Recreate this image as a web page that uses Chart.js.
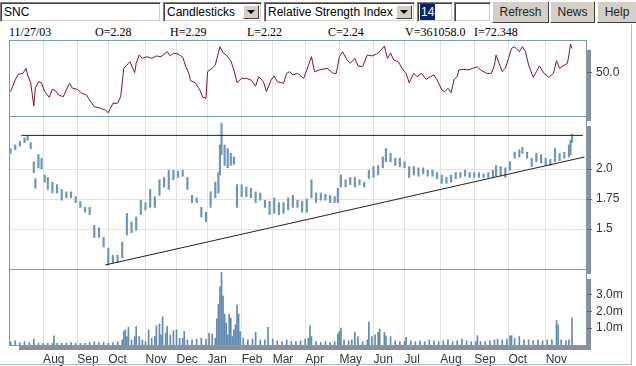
<!DOCTYPE html>
<html>
<head>
<meta charset="utf-8">
<script src="https://cdn.jsdelivr.net/npm/chart.js@4.4.1/dist/chart.umd.min.js"></script>
<style>
  body { margin: 0; background: #fff; width: 636px; height: 366px; overflow: hidden; position: relative;
         font-family: "Liberation Sans", Arial, sans-serif; font-size: 12px; color: #000; }
  .box { position: absolute; top: 2px; height: 20px; box-sizing: border-box; background: #fff;
         border: 1px solid; border-color: #808080 #fff #fff #808080;
         box-shadow: inset 1px 1px 0 #404040, inset -1px -1px 0 #d4d0c8;
         line-height: 18px; padding-left: 3px; white-space: nowrap; overflow: hidden; }
  .arrow { position: absolute; right: 2px; top: 2px; width: 16px; height: 14px; box-sizing: border-box;
           background: #d4d0c8; border: 1px solid; border-color: #fff #404040 #404040 #fff; }
  .arrow:after { content: ""; position: absolute; left: 3px; top: 4px; border-left: 4px solid transparent;
                 border-right: 4px solid transparent; border-top: 4px solid #000; }
  .btn { position: absolute; top: 1px; height: 22px; box-sizing: border-box; background: #d4d0c8;
         border: 1px solid; border-color: #fff #404040 #404040 #fff; text-align: center; line-height: 20px; color: #222; }
  .info { position: absolute; top: 25px; font-family: "Liberation Serif", "Times New Roman", serif; font-size: 12px; }
  canvas { position: absolute; left: 0; }
  .frame { position: absolute; background: #a9bccf; }
</style>
</head>
<body>
<div class="box" style="left:0;width:161px">SNC</div>
<div class="box" style="left:163px;width:99px">Candlesticks<span class="arrow"></span></div>
<div class="box" style="left:264px;width:151px">Relative Strength Index<span class="arrow"></span></div>
<div class="box" style="left:417px;width:36px;padding-left:2px"><span style="background:#0a246a;color:#fff;padding:1px 1px">14</span></div>
<div class="box" style="left:454px;width:37px"></div>
<div class="btn" style="left:492px;width:57px">Refresh</div>
<div class="btn" style="left:550px;width:45px">News</div>
<div class="btn" style="left:597px;width:40px">Help</div>

<div class="info" style="left:9px">11/27/03</div>
<div class="info" style="left:95px">O=2.28</div>
<div class="info" style="left:170px">H=2.29</div>
<div class="info" style="left:247px">L=2.22</div>
<div class="info" style="left:328px">C=2.24</div>
<div class="info" style="left:405px">V=361058.0</div>
<div class="info" style="left:474px">I=72.348</div>

<canvas id="rsiChart" width="636" height="82" style="top:40px"></canvas>
<canvas id="priceChart" width="636" height="159" style="top:116px"></canvas>
<canvas id="volChart" width="636" height="97" style="top:269px"></canvas>

<div class="frame" style="left:631px;top:24px;width:1px;height:341px"></div>
<div class="frame" style="left:0;top:364px;width:632px;height:1px"></div>

<script>
// x axis: trading days from the start of Jul 2002 to 27 Nov 2003
const lastDay = 372;
const monthDays = [22, 44, 64, 88, 108, 128, 150, 170, 191, 213, 235, 255, 278, 300, 322, 346];
const monthLabels = ['Aug', 'Sep', 'Oct', 'Nov', 'Dec', 'Jan', 'Feb', 'Mar', 'Apr', 'May', 'Jun', 'Jul', 'Aug', 'Sep', 'Oct', 'Nov'];

// RSI (14)
const rsiDays = [1, 4, 6, 9, 11, 12, 14, 16, 17, 19, 21, 23, 26, 28, 30, 32, 35, 37, 39, 41,
  44, 47, 50, 52, 55, 59, 62, 64, 67, 70, 72, 74, 77, 78, 81, 82, 84, 86, 89, 92,
  95, 98, 102, 104, 106, 109, 112, 114, 116, 117, 120, 123, 125, 127, 128, 131, 133, 136, 138, 140,
  143, 145, 147, 150, 153, 156, 159, 161, 164, 166, 169, 171, 173, 177, 179, 181, 183, 186, 190, 192,
  195, 197, 200, 205, 209, 211, 213, 215, 218, 220, 223, 225, 228, 231, 234, 237, 240, 242, 244, 246,
  248, 251, 254, 256, 258, 261, 263, 266, 269, 271, 274, 276, 279, 281, 283, 285, 287, 289, 290, 293,
  296, 299, 302, 304, 308, 311, 313, 314, 316, 318, 320, 322, 324, 326, 329, 331, 333, 335, 338, 340,
  342, 345, 348, 351, 353, 355, 357, 360, 361, 362, 363];
const rsiValues = [32.4, 43.2, 48.4, 49.3, 53.9, 47.8, 40.4, 19.2, 35.8, 41.6, 40.4, 32.4, 27.2, 34.6, 33.3, 29.3, 27.8, 34, 40.1, 35.5,
  34.6, 30.9, 29.3, 24.7, 18.6, 17.1, 15.5, 13, 21.7, 21.7, 27.8, 53.9, 58.5, 60, 49.9, 58.5, 66.2, 63.1, 64.6, 63.1,
  65.3, 64.6, 69.2, 65.3, 67.8, 67.1, 64.1, 55.4, 49.3, 42.5, 40.7, 34, 27.2, 26.3, 50.8, 53.9, 57, 73.8, 68.3, 66.2,
  60.9, 52.4, 40.7, 44.7, 44.7, 43.2, 37.6, 46.2, 41.6, 32.4, 43.2, 46.8, 41.6, 40.1, 49.3, 50.8, 47.8, 49.3, 44.7, 52.4,
  64.6, 50.8, 52.4, 53.9, 49.3, 49.3, 64.6, 69.2, 61.6, 58.5, 63.1, 56.1, 55.4, 66.2, 65.3, 67.1, 70.8, 74.5, 63.1, 67.8,
  61.6, 60, 52.4, 49.3, 40.7, 49.3, 46.2, 49.3, 43.8, 45.6, 47.8, 43.2, 34, 32.4, 35.5, 31.5, 43.8, 46.2, 52.4, 53,
  52.4, 53.9, 55.4, 52.4, 49.3, 49.3, 57, 66.2, 58.5, 50.8, 53.9, 63.1, 72.4, 73.8, 69.2, 73.8, 69.2, 57, 45.6, 50.8,
  56.1, 49.3, 45.6, 49.3, 60.9, 53.9, 56.1, 58.5, 66.2, 76.3, 72.3];
const rsiTicks = [50];
const rsiTickLabels = ['50.0'];

// price bars (low / high)
const priceDays = [1, 4, 7, 10, 12, 14, 16, 17, 19, 21, 23, 25, 28, 31, 34, 37, 40, 43, 46, 49,
  52, 55, 58, 61, 64, 67, 70, 73, 76, 79, 82, 85, 88, 91, 94, 97, 100, 103, 106, 109,
  112, 115, 118, 121, 124, 127, 130, 133, 135, 136, 137, 139, 141, 143, 145, 147, 150, 153, 156, 159,
  162, 165, 168, 171, 174, 177, 180, 183, 186, 189, 192, 195, 198, 201, 204, 207, 210, 212, 214, 217,
  220, 223, 226, 229, 232, 235, 238, 241, 243, 246, 249, 252, 255, 258, 261, 264, 267, 270, 273, 276,
  279, 282, 285, 288, 291, 294, 297, 300, 303, 306, 309, 312, 314, 317, 320, 323, 326, 329, 331, 334,
  337, 340, 343, 346, 349, 352, 355, 358, 361, 362, 363];
const priceLow = [2.13, 2.16, 2.19, 2.22, 2.24, 2.17, 1.97, 1.84, 2.01, 2.00, 1.89, 1.83, 1.80, 1.80, 1.74, 1.76, 1.76, 1.72, 1.68, 1.64,
  1.62, 1.43, 1.43, 1.35, 1.20, 1.22, 1.22, 1.26, 1.45, 1.47, 1.49, 1.62, 1.66, 1.68, 1.68, 1.78, 1.85, 1.83, 1.91, 1.93,
  1.94, 1.83, 1.72, 1.72, 1.60, 1.56, 1.68, 1.76, 1.80, 1.95, 2.12, 2.03, 2.01, 2.03, 2.04, 1.68, 1.77, 1.77, 1.76, 1.72,
  1.74, 1.68, 1.62, 1.63, 1.62, 1.63, 1.66, 1.68, 1.68, 1.64, 1.64, 1.76, 1.72, 1.74, 1.74, 1.72, 1.72, 1.72, 1.85, 1.85,
  1.87, 1.85, 1.87, 1.85, 1.92, 1.93, 1.95, 2.01, 2.06, 2.06, 2.03, 2.02, 2.01, 1.93, 1.95, 1.94, 1.96, 1.94, 1.94, 1.92,
  1.88, 1.88, 1.89, 1.92, 1.93, 1.94, 1.93, 1.93, 1.93, 1.93, 1.93, 1.93, 1.94, 1.94, 1.93, 1.99, 2.09, 2.10, 2.13, 2.09,
  2.02, 2.06, 2.05, 2.03, 2.03, 2.06, 2.07, 2.09, 2.10, 2.12, 2.22];
const priceHigh = [2.17, 2.20, 2.23, 2.26, 2.28, 2.22, 2.06, 1.92, 2.12, 2.09, 1.95, 1.93, 1.89, 1.87, 1.83, 1.81, 1.81, 1.77, 1.73, 1.68,
  1.68, 1.53, 1.51, 1.43, 1.34, 1.28, 1.28, 1.39, 1.63, 1.56, 1.60, 1.74, 1.72, 1.83, 1.77, 1.91, 1.93, 1.99, 1.99, 1.98,
  1.99, 1.93, 1.78, 1.76, 1.68, 1.64, 1.81, 1.89, 1.97, 2.20, 2.38, 2.20, 2.17, 2.13, 2.10, 1.87, 1.87, 1.85, 1.84, 1.81,
  1.80, 1.74, 1.73, 1.76, 1.72, 1.72, 1.76, 1.78, 1.74, 1.73, 1.75, 1.91, 1.80, 1.80, 1.79, 1.78, 1.77, 1.84, 1.95, 1.91,
  1.93, 1.93, 1.91, 1.89, 1.99, 2.02, 2.03, 2.10, 2.17, 2.13, 2.09, 2.09, 2.06, 2.02, 2.02, 2.01, 2.01, 1.99, 1.99, 1.97,
  1.95, 1.93, 1.95, 1.97, 1.97, 1.99, 1.97, 1.97, 1.97, 1.96, 1.97, 1.99, 2.03, 2.02, 2.01, 2.06, 2.14, 2.16, 2.18, 2.14,
  2.09, 2.13, 2.12, 2.09, 2.08, 2.17, 2.13, 2.14, 2.20, 2.24, 2.29];
const priceTicks = [1.5, 1.75, 2.0];
const priceTickLabels = ['1.5', '1.75', '2.0'];

// drawn lines: resistance and rising trend
const levelDays = [8, 370];
const levelValues = [2.28, 2.28];
const trendDays = [62, 371];
const trendValues = [1.20, 2.10];

// volume, millions of shares
const volDays = [1, 4, 7, 10, 13, 16, 19, 22, 25, 28, 29, 31, 34, 37, 40, 43, 46, 49, 52, 55,
  58, 61, 64, 67, 70, 73, 74, 75, 76, 77, 79, 81, 82, 84, 86, 88, 90, 92, 94, 95,
  97, 98, 99, 101, 102, 104, 106, 108, 110, 112, 113, 115, 118, 121, 124, 127, 129, 131, 133, 134,
  135, 136, 137, 138, 139, 140, 141, 142, 143, 144, 145, 146, 147, 148, 149, 151, 154, 157, 159, 162,
  165, 167, 170, 173, 176, 179, 182, 185, 188, 191, 193, 194, 195, 198, 201, 204, 207, 210, 212, 213,
  214, 216, 219, 221, 223, 225, 228, 231, 232, 234, 236, 238, 239, 242, 243, 246, 249, 252, 255, 256,
  259, 262, 265, 268, 271, 274, 277, 280, 283, 286, 289, 292, 295, 298, 301, 302, 304, 307, 310, 313,
  315, 318, 321, 323, 324, 326, 329, 332, 335, 338, 341, 344, 347, 350, 353, 354, 356, 359, 361, 363];
const volValues = [0.2, 0.25, 0.15, 0.2, 0.15, 0.35, 0.1, 0.1, 0.1, 0.1, 0.55, 0.1, 0.1, 0.1, 0.15, 0.1, 0.1, 0.1, 0.15, 0.2,
  0.15, 0.15, 0.1, 0.15, 0.2, 0.3, 0.8, 0.9, 0.5, 1.05, 0.3, 0.5, 1.1, 0.5, 0.3, 0.2, 0.9, 0.4, 0.5, 1.15,
  1.25, 0.6, 1.67, 0.7, 1.1, 0.6, 0.85, 0.9, 0.4, 0.4, 0.8, 0.3, 0.3, 0.35, 0.4, 0.35, 0.7, 0.65, 0.4, 1.55,
  2.4, 3.45, 4.3, 2.9, 1.83, 1.3, 0.6, 1.83, 1.6, 0.5, 0.9, 1.2, 2.37, 1.83, 0.8, 0.4, 0.3, 0.35, 0.75, 0.3,
  0.3, 1.05, 0.35, 0.25, 0.2, 0.3, 0.2, 0.2, 0.25, 0.35, 0.4, 1.15, 0.5, 0.2, 0.15, 0.2, 0.15, 0.2, 0.65, 0.8,
  1.0, 0.3, 0.25, 0.3, 0.75, 0.5, 0.2, 0.3, 1.35, 0.5, 0.6, 0.75, 0.95, 0.75, 0.55, 0.5, 0.25, 0.2, 0.2, 0.45,
  0.25, 0.2, 0.25, 0.2, 0.3, 0.25, 0.2, 0.25, 0.3, 0.2, 0.25, 0.35, 0.25, 0.2, 0.2, 0.55, 0.2, 0.2, 0.25, 0.3,
  0.35, 0.3, 0.35, 0.55, 0.55, 0.4, 0.5, 0.3, 0.3, 0.25, 0.3, 0.25, 0.3, 0.3, 1.45, 1.2, 0.3, 0.25, 0.3, 1.6];
const volTicks = [1, 2, 3];
const volTickLabels = ['1.0m', '2.0m', '3.0m'];

Chart.defaults.font.family = '"Liberation Sans", Arial, sans-serif';
Chart.defaults.font.size = 12;
Chart.defaults.color = '#333';

// white panel with a grey drop shadow and a steel-blue border
const panelPlugin = {
  id: 'panel',
  beforeDraw(chart) {
    const { ctx, chartArea: a } = chart;
    ctx.save();
    ctx.fillStyle = '#8b8f97';
    ctx.fillRect(a.left + 10, a.top + 10, a.right - a.left - 5, a.bottom - a.top - 5);
    ctx.fillStyle = '#fff';
    ctx.fillRect(a.left, a.top, a.right - a.left + 1, a.bottom - a.top + 1);
    ctx.restore();
  },
  afterDraw(chart) {
    const { ctx, chartArea: a } = chart;
    ctx.save();
    ctx.strokeStyle = '#7c9bb9';
    ctx.lineWidth = 1;
    ctx.strokeRect(a.left + 0.5, a.top + 0.5, a.right - a.left, a.bottom - a.top);
    ctx.restore();
  }
};

function xScale(showLabels) {
  return {
    type: 'linear', min: 0, max: lastDay, offset: false,
    grid: { color: '#e3e3e3', offset: false, drawTicks: showLabels, tickLength: 5, tickColor: '#7c9bb9' },
    border: { display: false },
    ticks: { display: showLabels, align: 'start', padding: 2, autoSkip: false, maxRotation: 0,
             callback: (v, i) => monthLabels[i] },
    afterBuildTicks: s => { s.ticks = monthDays.map(d => ({ value: d })); },
    afterFit: s => { s.height = showLabels ? 21 : 0; s.paddingLeft = 0; s.paddingRight = 0; }
  };
}

function yScale(min, max, ticks, labels, gridOnArea) {
  return {
    position: 'right', min: min, max: max, beginAtZero: false,
    grid: { drawOnChartArea: gridOnArea, color: '#e3e3e3', tickLength: 6, tickColor: '#666' },
    border: { display: false },
    ticks: { padding: 4, callback: (v, i) => labels[i] },
    afterBuildTicks: s => { s.ticks = ticks.map(v => ({ value: v })); },
    afterFit: s => { s.width = 50; s.paddingTop = 0; s.paddingBottom = 0; }
  };
}

const common = {
  responsive: false,
  devicePixelRatio: 1,
  animation: false,
  events: [],
  plugins: { legend: { display: false }, tooltip: { enabled: false } }
};

new Chart(document.getElementById('rsiChart'), {
  type: 'line',
  data: {
    datasets: [{
      data: rsiDays.map((d, i) => ({ x: d, y: rsiValues[i] })),
      borderColor: '#7d1535', borderWidth: 1, pointRadius: 0, tension: 0
    }]
  },
  options: Object.assign({}, common, {
    layout: { padding: { left: 9, right: 0, top: 0, bottom: 6 } },
    scales: { x: xScale(false), y: yScale(10, 80, rsiTicks, rsiTickLabels, false) }
  }),
  plugins: [panelPlugin]
});

new Chart(document.getElementById('priceChart'), {
  type: 'bar',
  data: {
    datasets: [
      {
        type: 'line',
        data: levelDays.map((d, i) => ({ x: d, y: levelValues[i] })),
        borderColor: '#222', borderWidth: 1, pointRadius: 0
      },
      {
        type: 'line',
        data: trendDays.map((d, i) => ({ x: d, y: trendValues[i] })),
        borderColor: '#222', borderWidth: 1, pointRadius: 0
      },
      {
        data: priceDays.map((d, i) => ({ x: d, y: [priceLow[i], priceHigh[i]] })),
        backgroundColor: '#6d95b9', barThickness: 1.5, grouped: false
      }
    ]
  },
  options: Object.assign({}, common, {
    layout: { padding: { left: 9, right: 0, top: 0, bottom: 6 } },
    scales: { x: xScale(false), y: yScale(1.1667, 2.4417, priceTicks, priceTickLabels, true) }
  }),
  plugins: [panelPlugin]
});

new Chart(document.getElementById('volChart'), {
  type: 'bar',
  data: {
    datasets: [{
      data: volDays.map((d, i) => ({ x: d, y: volValues[i] })),
      backgroundColor: '#5f8ab2', barThickness: 1, grouped: false
    }]
  },
  options: Object.assign({}, common, {
    layout: { padding: { left: 9, right: 0, top: 0, bottom: 0 } },
    scales: { x: xScale(true), y: yScale(0, 4.5, volTicks, volTickLabels, false) }
  }),
  plugins: [panelPlugin]
});
</script>
</body>
</html>
